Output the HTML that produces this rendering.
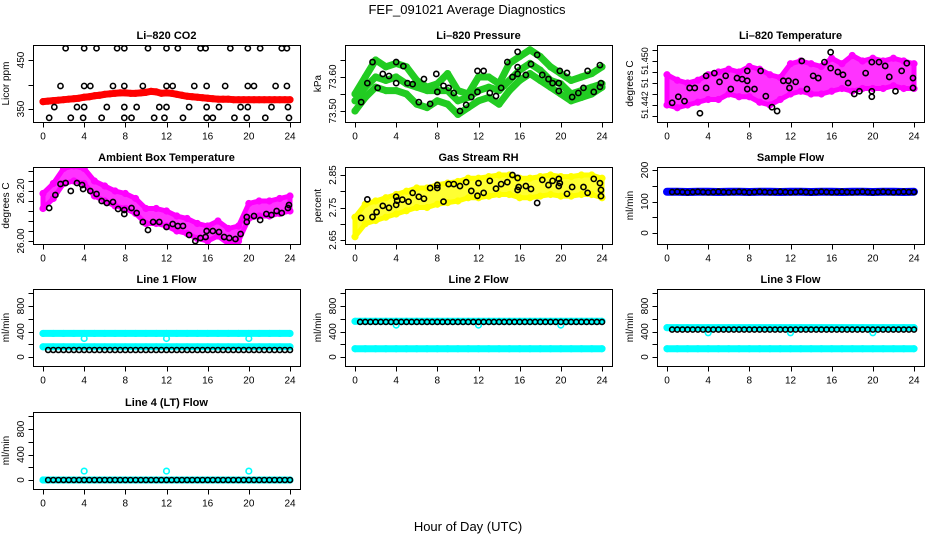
<!DOCTYPE html>
<html><head><meta charset="utf-8">
<style>
html,body{margin:0;padding:0;background:#fff;}
svg{display:block;font-family:"Liberation Sans",Arial,sans-serif;}
</style></head>
<body>
<svg id="fig" width="936" height="540" viewBox="0 0 936 540">
<rect width="936" height="540" fill="#fff"/>
<text x="467" y="14" font-size="13" text-anchor="middle">FEF_091021  Average Diagnostics</text>
<text x="468" y="531" font-size="13" text-anchor="middle">Hour of Day (UTC)</text>
</svg>
<script>
// ---------- DATA ----------
const xTicks = [0,4,8,12,16,20,24];
// CO2
const co2Red = [365,366,367,368,369,370,371,372,374,375,377,378,380,381,382,383,383,382,382,383,384,386,385,382,383,382,380,378,376,375,374,373,372,371,370,370,370,369,369,369,369,369,369,369,369,369,369,369,369];
const co2BlkH = [2.2,4.0,5.2,7.2,7.9,10.2,12.0,13.1,15.3,15.8,18.2,19.9,21.1,23.2,23.7, 1.7,4.0,4.6,6.8,7.9,9.7,12.0,12.6,14.7,15.9,17.7,19.9,20.5,22.6,23.7, 1.1,3.3,4.0,6.2,7.9,9.1,11.3,12.0,14.2,15.9,17.1,19.2,19.9,22.2,23.8, 0.6,2.7,3.9,5.7,7.9,8.6,10.8,11.8,13.6,15.9,16.5,18.6,19.8,21.6,23.9];
const co2BlkV = [474,474,474,474,474,474,474,474,474,474,474,474,474,474,474, 397,397,397,397,397,397,397,397,397,397,397,397,397,397,397, 354,354,354,354,354,354,354,354,354,354,354,354,354,354,354, 332,332,332,332,332,332,332,332,332,332,332,332,332,332,332];
// Pressure
const presA = [73.55,73.60,73.65,73.63,73.64,73.63,73.59,73.57,73.58,73.61,73.56,73.55,73.60,73.60,73.58,73.64,73.66,73.68,73.66,73.63,73.61,73.59,73.60,73.61,73.63];
const presB = [73.53,73.57,73.60,73.59,73.60,73.58,73.57,73.56,73.56,73.56,73.53,73.54,73.56,73.57,73.56,73.59,73.62,73.64,73.62,73.59,73.58,73.55,73.56,73.57,73.58];
const presC = [73.50,73.54,73.57,73.56,73.56,73.55,73.52,73.51,73.53,73.52,73.49,73.51,73.53,73.54,73.52,73.56,73.59,73.61,73.59,73.57,73.55,73.53,73.54,73.55,73.57];
const presBlkH = [0.6,1.2,1.7,2.2,2.7,3.3,4.0,4.0,4.7,5.1,5.6,6.2,6.7,7.3,7.9,8.0,8.6,9.1,9.6,10.2,10.8,11.3,11.9,11.9,12.5,13.1,13.7,14.2,14.8,15.3,15.8,15.8,15.8,16.6,17.1,17.7,18.2,18.8,19.2,19.8,19.8,19.9,20.6,21.1,21.7,22.2,22.6,23.2,23.8,23.9,23.8];
const presBlkV = [73.526,73.582,73.644,73.568,73.609,73.603,73.644,73.582,73.632,73.582,73.579,73.526,73.594,73.521,73.609,73.556,73.574,73.568,73.553,73.500,73.518,73.541,73.618,73.556,73.618,73.553,73.544,73.568,73.644,73.600,73.674,73.629,73.609,73.606,73.638,73.665,73.606,73.594,73.582,73.582,73.559,73.618,73.612,73.541,73.553,73.568,73.618,73.556,73.635,73.582,73.571];
// Li-820 temperature
const tempUp = [51.4475,51.4465,51.4460,51.4465,51.4475,51.4480,51.4485,51.4480,51.4490,51.4485,51.4475,51.4470,51.4495,51.4500,51.4495,51.4490,51.4505,51.4495,51.4510,51.4500,51.4505,51.4500,51.4505,51.4500,51.4495];
const tempLo = [51.4420,51.4415,51.4420,51.4425,51.4430,51.4430,51.4440,51.4435,51.4435,51.4425,51.4420,51.4430,51.4440,51.4445,51.4440,51.4440,51.4445,51.4450,51.4445,51.4450,51.4450,51.4450,51.4455,51.4450,51.4450];
const tempBlkH = [0.5,1.1,1.7,2.2,2.7,3.2,3.8,3.8,4.6,5.1,5.7,6.2,6.8,7.3,7.8,7.8,7.8,8.5,9.1,9.6,10.2,10.7,11.3,11.8,11.9,12.5,13.1,13.6,14.2,14.7,15.3,15.9,15.9,16.6,17.1,17.6,18.2,18.7,19.3,19.9,19.9,19.9,20.6,21.2,21.6,22.2,22.8,23.3,23.9,23.9];
const tempBlkV = [51.4424,51.4435,51.4427,51.4451,51.4451,51.4405,51.4451,51.4473,51.4478,51.4462,51.4473,51.4449,51.4469,51.4467,51.4482,51.4449,51.4464,51.4449,51.4482,51.4436,51.4416,51.4409,51.4464,51.4464,51.4451,51.4462,51.4500,51.4449,51.4473,51.4469,51.4498,51.4516,51.4487,51.4480,51.4475,51.4460,51.4440,51.4445,51.4478,51.4498,51.4445,51.4435,51.4498,51.4491,51.4471,51.4445,51.4482,51.4496,51.4469,51.4451];
// Ambient box temperature
const ambMid = [26.16,26.20,26.26,26.27,26.26,26.21,26.19,26.17,26.16,26.14,26.10,26.10,26.09,26.07,26.06,26.04,26.03,26.05,26.02,26.03,26.12,26.13,26.13,26.14,26.15];
const ambBlkH = [0.6,1.2,1.7,2.2,2.7,3.3,3.8,3.9,4.6,5.2,5.7,6.2,6.8,7.3,7.9,7.9,8.6,9.1,9.7,10.2,10.7,11.3,12.0,12.6,13.1,13.6,14.2,14.8,15.3,15.8,15.9,16.5,17.1,17.6,18.1,18.7,19.2,19.8,19.8,20.5,21.1,21.7,22.2,22.7,23.2,23.8,23.9];
const ambBlkV = [26.132,26.184,26.228,26.232,26.20,26.232,26.224,26.208,26.20,26.188,26.16,26.152,26.156,26.128,26.124,26.108,26.132,26.112,26.076,26.044,26.076,26.076,26.056,26.068,26.06,26.06,26.024,26.0,26.012,26.016,26.04,26.04,26.036,26.016,26.012,26.008,26.028,26.076,26.096,26.10,26.084,26.108,26.104,26.12,26.112,26.132,26.144];
// Gas stream RH
const rhMid = [2.69,2.73,2.74,2.75,2.76,2.77,2.78,2.78,2.79,2.795,2.80,2.81,2.81,2.815,2.82,2.82,2.81,2.81,2.815,2.82,2.815,2.815,2.82,2.82,2.81];
const rhBlkH = [0.6,1.2,1.7,2.1,2.7,3.3,4.0,4.0,4.1,4.6,5.2,5.6,6.2,6.7,7.3,8.0,8.0,8.6,9.1,9.6,10.2,10.8,11.3,11.9,12.0,12.5,13.1,13.7,14.2,14.8,15.3,15.8,15.8,15.9,16.6,17.1,17.7,18.2,18.8,19.2,19.8,19.8,19.9,20.6,21.1,22.2,22.6,23.2,23.8,23.9,23.9];
const rhBlkV = [2.718,2.775,2.721,2.736,2.755,2.749,2.783,2.758,2.771,2.774,2.768,2.795,2.783,2.777,2.810,2.819,2.810,2.768,2.822,2.822,2.816,2.828,2.801,2.786,2.825,2.795,2.832,2.808,2.822,2.828,2.850,2.841,2.804,2.813,2.816,2.807,2.764,2.835,2.819,2.832,2.838,2.816,2.825,2.792,2.813,2.813,2.795,2.838,2.825,2.804,2.785];
// Flows
const sampleBand = [131,131,130,131,131,130,131,131,130,131,131,130,131,131,130,131,131,130,131,131,130,131,131,130,131];
const sampleBlk = [130,131,130,129,130,131,130,129,130,131,130,129,130,131,130,129,130,131,130,129,130,131,130,129,130,131,130,129,130,131,130,129,130,131,130,129,130,131,130,129,130,131,130,129,130,131,130,130];
const l1High = [370,370,370,370,370,370,370,370,370,370,370,370,370,370,370,370,370,370,370,370,370,370,370,370,370];
const l1Low = [160,160,160,160,160,160,160,160,160,160,160,160,160,160,160,160,160,160,160,160,160,160,160,160,160];
const l1Blk = [110,110,110,110,110,110,110,110,110,110,110,110,110,110,110,110,110,110,110,110,110,110,110,110,110,110,110,110,110,110,110,110,110,110,110,110,110,110,110,110,110,110,110,110,110,110,110,110];
const l1DipH = [4,12,20]; const l1DipV = [290,290,290];
const l2High = [560,560,560,560,560,560,560,560,560,560,560,560,560,560,560,560,560,560,560,560,560,560,560,560,560];
const l2Low = [130,130,130,130,130,130,130,130,130,130,130,130,130,130,130,130,130,130,130,130,130,130,130,130,130];
const l2Blk = [550,550,550,550,550,550,550,550,550,550,550,550,550,550,550,550,550,550,550,550,550,550,550,550,550,550,550,550,550,550,550,550,550,550,550,550,550,550,550,550,550,550,550,550,550,550,550,550];
const l2DipH = [4,12,20]; const l2DipV = [500,500,500];
const l3High = [460,460,460,460,460,460,460,460,460,460,460,460,460,460,460,460,460,460,460,460,460,460,460,460,460];
const l3Low = [130,130,130,130,130,130,130,130,130,130,130,130,130,130,130,130,130,130,130,130,130,130,130,130,130];
const l3Blk = [430,430,430,430,430,430,430,430,430,430,430,430,430,430,430,430,430,430,430,430,430,430,430,430,430,430,430,430,430,430,430,430,430,430,430,430,430,430,430,430,430,430,430,430,430,430,430,430];
const l3DipH = [4,12,20]; const l3DipV = [380,380,380];
const l4Band = [0,0,0,0,0,0,0,0,0,0,0,0,0,0,0,0,0,0,0,0,0,0,0,0,0];
const l4Blk = [0,0,0,0,0,0,0,0,0,0,0,0,0,0,0,0,0,0,0,0,0,0,0,0,0,0,0,0,0,0,0,0,0,0,0,0,0,0,0,0,0,0,0,0,0,0,0,0];
const l4DipH = [4,12,20]; const l4DipV = [140,140,140];

// ---------- DRAWING ----------
const NS = "http://www.w3.org/2000/svg";
const svg = document.getElementById('fig');
function el(tag, attrs, parent){ const e=document.createElementNS(NS,tag); for(const k in attrs) e.setAttribute(k,attrs[k]); (parent||svg).appendChild(e); return e; }
const BW=267, BH=77;
let clipId=0;
function panel(cfg){
  const g = el('g',{});
  
  
  const bx=cfg.bx, by=cfg.by;
  const xs = h => bx+10+h*(247/24);
  const ys = v => cfg.y0p + (v-cfg.y0v)*(cfg.y1p-cfg.y0p)/(cfg.y1v-cfg.y0v);
  const cid='c'+(clipId++);
  const cp = el('clipPath',{id:cid},g); el('rect',{x:bx,y:by,width:BW,height:BH},cp);
  const plot = el('g',{'clip-path':'url(#'+cid+')'},g);
  
  
  cfg.draw(plot, xs, ys);
  const box = el('rect',{x:bx+0.5,y:by+0.5,width:BW,height:BH,fill:'none',stroke:'#000','stroke-width':1},g);
  
  
  const t = el('text',{x:bx+BW/2,y:by-6,'font-size':11,'font-weight':'bold','text-anchor':'middle'},g);
  t.textContent = cfg.title;
  
  
  const xa = el('g',{},g);
  
  
  const yb = by+BH+0.5;
  el('line',{x1:xs(0),x2:xs(24),y1:yb,y2:yb,stroke:'#000'},xa);
  xTicks.forEach(h=>{
    el('line',{x1:Math.round(xs(h))+0.5,x2:Math.round(xs(h))+0.5,y1:yb,y2:yb+5,stroke:'#000'},xa);
    const tl = el('text',{x:xs(h),y:yb+17,'font-size':10,'text-anchor':'middle'},xa);
    tl.textContent = String(h);
    
    
  });
  const ya = el('g',{},g);
  
  
  const xl = bx+0.5;
  const tp = cfg.yTicks.map(ys);
  el('line',{x1:xl,x2:xl,y1:Math.min(...tp),y2:Math.max(...tp),stroke:'#000'},ya);
  tp.forEach(p=>el('line',{x1:xl-5,x2:xl,y1:Math.round(p)+0.5,y2:Math.round(p)+0.5,stroke:'#000'},ya));
  cfg.yLabV.forEach((v,i)=>{
    const p=ys(v), lx=bx-9;
    const tl = el('text',{x:lx,y:p,'font-size':cfg.yfs||10,'text-anchor':'middle',transform:'rotate(-90 '+lx+' '+p+')'},ya);
    tl.textContent = cfg.yLabT[i];
    
    
  });
  const yt = el('text',{x:bx-24,y:by+BH/2,'font-size':10,'text-anchor':'middle',transform:'rotate(-90 '+(bx-24)+' '+(by+BH/2)+')'},ya);
  yt.textContent = cfg.ylab;
  
  
}
function pts(plot, xsArr, vArr, xs, ys, color, r, name){
  vArr.forEach((v,i)=>{
    const c = el('circle',{cx:xs(xsArr[i]),cy:ys(v),r:r||2.6,fill:'none',stroke:color,'stroke-width':1.6},plot);
    
    
  });
}
function hoursFor(arr, start){ const s=start||0; return arr.map((_,i)=>s+i*(24-s)/(arr.length-1)); }
function strand(plot, arr, xs, ys, color, w, name){
  const hs = hoursFor(arr);
  const p = el('polyline',{points:arr.map((v,i)=>xs(hs[i])+','+ys(v)).join(' '),fill:'none',stroke:color,'stroke-width':w,'stroke-linejoin':'round','stroke-linecap':'round'},plot);
  
  
  pts(plot, hs, arr, xs, ys, color, 2.8, name+'-point');
}
function band(plot, up, lo, xs, ys, color, name){
  const hs = hoursFor(up);
  const d = up.map((v,i)=>xs(hs[i])+','+ys(v)).concat(lo.map((v,i)=>xs(hs[i])+','+ys(v)).reverse()).join(' ');
  const p = el('polygon',{points:d,fill:color,'fill-opacity':0.8,stroke:color,'stroke-width':5,'stroke-linejoin':'round'},plot);
  
  
  pts(plot, hs, up, xs, ys, color, 2.8, name+'-point');
  pts(plot, hs, lo, xs, ys, color, 2.8, name+'-point');
}
const colX=[33,345,657], rowY=[45,167,289,412];
const flowTicks=[0,200,400,600,800,1000];

panel({name:'co2-panel',title:'Li\u2013820 CO2',ylab:'Licor ppm',bx:colX[0],by:rowY[0],y0v:350,y0p:109,y1v:450,y1p:60,
  yTicks:[350,400,450],yLabV:[350,450],yLabT:['350','450'],
  draw:(p,xs,ys)=>{ strand(p,co2Red,xs,ys,'#ff0000',7,'co2-red-series'); pts(p,co2BlkH,co2BlkV,xs,ys,'#000',2.6,'co2-black-point'); }});
panel({name:'pressure-panel',title:'Li\u2013820 Pressure',ylab:'kPa',bx:colX[1],by:rowY[0],y0v:73.50,y0p:111,y1v:73.60,y1p:77,
  yTicks:[73.50,73.55,73.60,73.65],yLabV:[73.50,73.60],yLabT:['73.50','73.60'],
  draw:(p,xs,ys)=>{ strand(p,presA,xs,ys,'#22cc22',7,'pressure-strand-a'); strand(p,presB,xs,ys,'#22cc22',7,'pressure-strand-b'); strand(p,presC,xs,ys,'#22cc22',7,'pressure-strand-c'); pts(p,presBlkH,presBlkV,xs,ys,'#000',2.6,'pressure-black-point'); }});
panel({name:'li820-temp-panel',title:'Li\u2013820 Temperature',ylab:'degrees C',bx:colX[2],by:rowY[0],y0v:51.442,y0p:105,y1v:51.450,y1p:61,yfs:9,
  yTicks:[51.440,51.442,51.444,51.446,51.448,51.450,51.452],yLabV:[51.442,51.446,51.450],yLabT:['51.442','51','51.450'],
  draw:(p,xs,ys)=>{ band(p,tempUp,tempLo,xs,ys,'#ff00ff','temp-magenta-band'); pts(p,tempBlkH,tempBlkV,xs,ys,'#000',2.6,'temp-black-point'); }});
panel({name:'ambient-temp-panel',title:'Ambient Box Temperature',ylab:'degrees C',bx:colX[0],by:rowY[1],y0v:26.00,y0p:241,y1v:26.20,y1p:191,
  yTicks:[26.00,26.04,26.08,26.12,26.16,26.20,26.24,26.28],yLabV:[26.00,26.20],yLabT:['26.00','26.20'],
  draw:(p,xs,ys)=>{ band(p,ambMid.map(v=>v+0.03),ambMid.map(v=>v-0.03),xs,ys,'#ff00ff','ambient-magenta-band'); pts(p,ambBlkH,ambBlkV,xs,ys,'#000',2.6,'ambient-black-point'); }});
panel({name:'rh-panel',title:'Gas Stream RH',ylab:'percent',bx:colX[1],by:rowY[1],y0v:2.65,y0p:240,y1v:2.85,y1p:175,
  yTicks:[2.65,2.70,2.75,2.80,2.85],yLabV:[2.65,2.75,2.85],yLabT:['2.65','2.75','2.85'],
  draw:(p,xs,ys)=>{ band(p,rhMid.map(v=>v+0.03),rhMid.map(v=>v-0.03),xs,ys,'#ffff00','rh-yellow-band'); pts(p,rhBlkH,rhBlkV,xs,ys,'#000',2.6,'rh-black-point'); }});
panel({name:'sample-flow-panel',title:'Sample Flow',ylab:'ml/min',bx:colX[2],by:rowY[1],y0v:0,y0p:233,y1v:200,y1p:170,
  yTicks:[0,50,100,150,200],yLabV:[0,100,200],yLabT:['0','100','200'],
  draw:(p,xs,ys)=>{ strand(p,sampleBand,xs,ys,'#0000ff',8,'sample-blue-series'); pts(p,hoursFor(sampleBlk,0.5),sampleBlk,xs,ys,'#000',2.5,'sample-black-point'); }});
function flowPanel(name,title,bx,by,y0p,high,low,blk,dipH,dipV){
  panel({name:name,title:title,ylab:'ml/min',bx:bx,by:by,y0v:0,y0p:y0p,y1v:800,y1p:y0p-51,
    yTicks:flowTicks,yLabV:[0,400,800],yLabT:['0','400','800'],
    draw:(p,xs,ys)=>{
      if(high) strand(p,high,xs,ys,'#00ffff',7,name+'-cyan-high');
      if(low) strand(p,low,xs,ys,'#00ffff',7,name+'-cyan-low');
      pts(p,dipH,dipV,xs,ys,'#00ffff',2.8,name+'-cyan-dip');
      pts(p,hoursFor(blk,0.5),blk,xs,ys,'#000',2.5,name+'-black-point');
    }});
}
flowPanel('line1-flow-panel','Line 1 Flow',colX[0],rowY[2],357,l1High,l1Low,l1Blk,l1DipH,l1DipV);
flowPanel('line2-flow-panel','Line 2 Flow',colX[1],rowY[2],357,l2High,l2Low,l2Blk,l2DipH,l2DipV);
flowPanel('line3-flow-panel','Line 3 Flow',colX[2],rowY[2],357,l3High,l3Low,l3Blk,l3DipH,l3DipV);
flowPanel('line4-flow-panel','Line 4 (LT) Flow',colX[0],rowY[3],480,l4Band,null,l4Blk,l4DipH,l4DipV);
</script>
</body></html>
